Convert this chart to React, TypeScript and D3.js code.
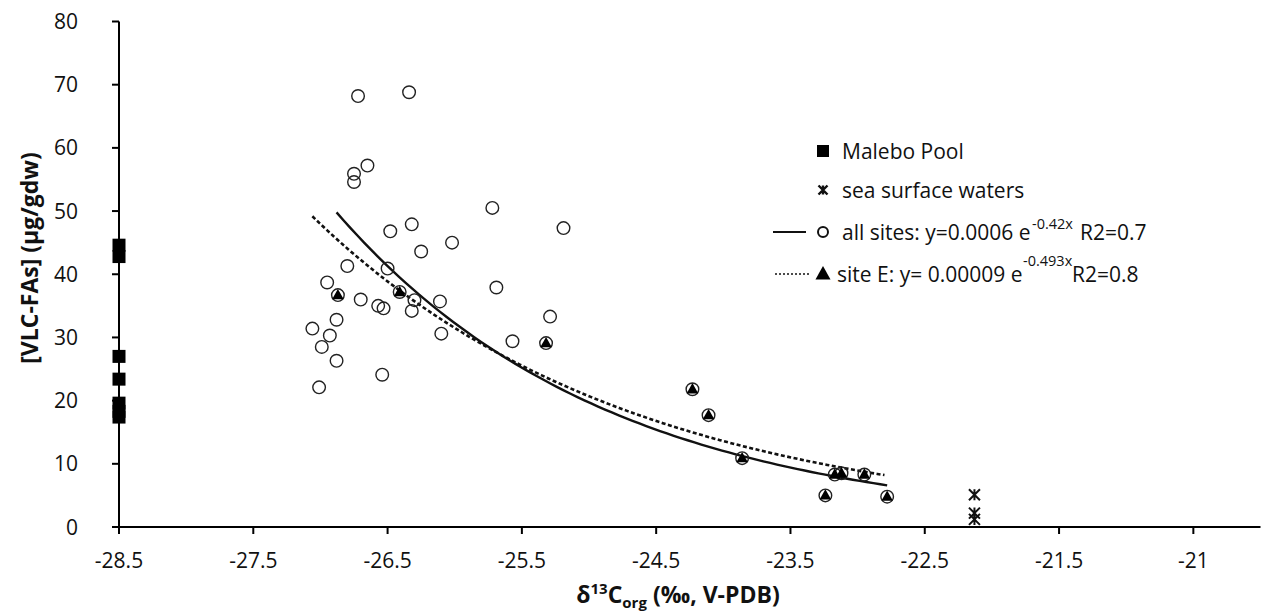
import React from 'react';
import * as d3 from 'd3';

// ---- data ----
const xTickValues = [-28.5, -27.5, -26.5, -25.5, -24.5, -23.5, -22.5, -21.5, -20.5];
const xTickLabels = ['-28.5', '-27.5', '-26.5', '-25.5', '-24.5', '-23.5', '-22.5', '-21.5', '-21'];
const yTickValues = [0, 10, 20, 30, 40, 50, 60, 70, 80];

// Malebo Pool (squares)
const maleboX = [-28.5, -28.5, -28.5, -28.5, -28.5, -28.5, -28.5];
const maleboY = [44.6, 42.8, 27.0, 23.4, 19.6, 18.3, 17.4];

// sea surface waters (stars)
const seaX = [-22.13, -22.13, -22.13];
const seaY = [5.1, 2.2, 1.2];

// all sites (open circles) – points not belonging to site E
const allX = [-26.72, -26.34, -26.65, -26.75, -26.75, -25.72, -25.19, -26.32, -26.48, -26.02,
  -26.25, -26.80, -26.50, -26.95, -25.69, -26.70, -26.57, -26.53, -26.30, -26.11,
  -26.32, -25.29, -26.88, -27.06, -26.93, -26.10, -26.99, -25.57, -26.88, -26.54, -27.01];
const allY = [68.2, 68.8, 57.2, 55.9, 54.6, 50.5, 47.3, 47.9, 46.8, 45.0,
  43.6, 41.3, 40.9, 38.7, 37.9, 36.0, 35.0, 34.6, 35.9, 35.7,
  34.2, 33.3, 32.8, 31.4, 30.3, 30.6, 28.5, 29.4, 26.3, 24.1, 22.1];

// site E (triangles, also part of all sites)
const siteEX = [-26.87, -26.41, -25.32, -24.23, -24.11, -23.86, -23.17, -23.12, -22.95, -23.24, -22.78];
const siteEY = [36.7, 37.2, 29.1, 21.8, 17.7, 10.9, 8.3, 8.5, 8.3, 5.0, 4.8];

// exponential trend lines y = a * exp(-b x)
const trendNames = ['solid', 'dashed'];
const trendA = [0.0000875, 0.00057];
const trendB = [0.493, 0.42];
const trendX0 = [-26.88, -27.06];
const trendX1 = [-22.78, -22.80];

const W = 1267;
const H = 613;
const FONT = "'Open Sans', sans-serif";

export default function App() {
  const x = d3.scaleLinear().domain([-28.5, -20.0]).range([119, 1260.5]);
  const y = d3.scaleLinear().domain([0, 80]).range([527, 21.5]);

  const line = d3.line<[number, number]>().x(d => x(d[0])).y(d => y(d[1])).curve(d3.curveLinear);

  const trends = trendNames.map((n, i) => {
    const steps = 80;
    const pts: [number, number][] = [];
    for (let k = 0; k <= steps; k++) {
      const xv = trendX0[i] + (trendX1[i] - trendX0[i]) * k / steps;
      pts.push([xv, trendA[i] * Math.exp(-trendB[i] * xv)]);
    }
    return { name: n, d: line(pts) as string };
  });

  const circleR = 6.3;
  const tri = (cx: number, cy: number, s: number) =>
    `M${cx},${cy - s * 0.62} L${cx + s * 0.58},${cy + s * 0.42} L${cx - s * 0.58},${cy + s * 0.42} Z`;
  const star = (cx: number, cy: number, s: number) =>
    `M${cx - s},${cy - s} L${cx + s},${cy + s} M${cx + s},${cy - s} L${cx - s},${cy + s} M${cx},${cy - s} L${cx},${cy + s}`;

  const allCircles = [
    ...allX.map((v, i) => [v, allY[i]]),
    ...siteEX.map((v, i) => [v, siteEY[i]]),
  ];

  return (
    <svg width={W} height={H} style={{ position: 'absolute', left: 0, top: 0, background: '#fff' }}
      fontFamily={FONT}>
      <rect x={0} y={0} width={W} height={H} fill="#fff" />

      {/* trend lines */}
      <path d={trends[1].d} fill="none" stroke="#111" strokeWidth={2.6} strokeDasharray="4,2.5" />
      <path d={trends[0].d} fill="none" stroke="#111" strokeWidth={2.4} />

      {/* circles */}
      {allCircles.map((p, i) => (
        <circle key={'c' + i} cx={x(p[0])} cy={y(p[1])} r={circleR} fill="none" stroke="#222" strokeWidth={1.4} />
      ))}
      {/* triangles */}
      {siteEX.map((v, i) => (
        <path key={'t' + i} d={tri(x(v), y(siteEY[i]), 10)} fill="#000" />
      ))}

      {/* axes */}
      <line x1={x(-28.5)} x2={x(-28.5)} y1={y(80)} y2={y(0)} stroke="#000" strokeWidth={2} />
      {yTickValues.map(t => (
        <g key={'yt' + t}>
          <line x1={x(-28.5) - 7} x2={x(-28.5)} y1={y(t)} y2={y(t)} stroke="#000" strokeWidth={2} />
          <text x={78} y={y(t) + 7.5} textAnchor="end" fontSize={21} fill="#111">{t}</text>
        </g>
      ))}
      <line x1={x(-28.5) - 7} x2={x(-20.0)} y1={y(0)} y2={y(0)} stroke="#000" strokeWidth={2} />
      {xTickValues.map((t, i) => (
        <g key={'xt' + i}>
          <line x1={x(t)} x2={x(t)} y1={y(0)} y2={y(0) + 7} stroke="#000" strokeWidth={2} />
          <text x={x(t)} y={568} textAnchor="middle" fontSize={21} fill="#111">{xTickLabels[i]}</text>
        </g>
      ))}

      {/* Malebo squares */}
      {maleboX.map((v, i) => (
        <rect key={'m' + i} x={x(v) - 6.5} y={y(maleboY[i]) - 6.5} width={13} height={13} fill="#000" />
      ))}
      {/* sea stars */}
      {seaX.map((v, i) => (
        <path key={'s' + i} d={star(x(v), y(seaY[i]), 5.5)} stroke="#111" strokeWidth={2} fill="none" />
      ))}

      {/* axis titles */}
      <text x={678} y={603} textAnchor="middle" fontSize={23} fontWeight="bold" fill="#111">
        <tspan>δ</tspan>
        <tspan fontSize={15} dy={-9}>13</tspan>
        <tspan dy={9}>C</tspan>
        <tspan fontSize={15} dy={5}>org</tspan>
        <tspan dy={-5}> (‰, V-PDB)</tspan>
      </text>
      <text transform="translate(38,258) rotate(-90)" textAnchor="middle" fontSize={23} fontWeight="bold" fill="#111">
        [VLC-FAs] (µg/gdw)
      </text>

      {/* legend */}
      <rect x={817} y={145} width={12} height={12} fill="#000" />
      <text x={842} y={158.5} fontSize={21} fill="#111">Malebo Pool</text>

      <path d={star(823, 190, 4.5)} stroke="#111" strokeWidth={2.4} fill="none" />
      <text x={842} y={197.5} fontSize={21} fill="#111">sea surface waters</text>

      <line x1={773} x2={806} y1={232} y2={232} stroke="#111" strokeWidth={2} />
      <circle cx={823} cy={232} r={5} fill="none" stroke="#111" strokeWidth={2} />
      <text x={842} y={239.5} fontSize={21} fill="#111">all sites: y=0.0006 e</text>
      <text x={1032} y={229} fontSize={14.5} fill="#111">-0.42x</text>
      <text x={1080} y={239.5} fontSize={21} fill="#111">R2=0.7</text>

      <line x1={775} x2={810} y1={274} y2={274} stroke="#111" strokeWidth={1.6} strokeDasharray="2,2" />
      <path d={tri(823, 274, 13)} fill="#000" />
      <text x={837} y={281.5} fontSize={21} fill="#111">site E: y= 0.00009 e</text>
      <text x={1023} y={266} fontSize={14.5} fill="#111">-0.493x</text>
      <text x={1072} y={281.5} fontSize={21} fill="#111">R2=0.8</text>
    </svg>
  );
}
